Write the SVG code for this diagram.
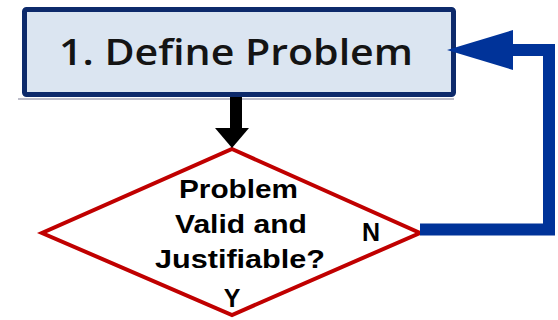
<svg xmlns="http://www.w3.org/2000/svg" width="558" height="320" viewBox="0 0 558 320">
<style>
.box{fill:#dbe5f1;stroke:#0d2a6b;stroke-width:5}
.dia{fill:#ffffff;stroke:#c00000;stroke-width:4;stroke-linejoin:miter}
.t1{font-family:"Open Sans","Noto Sans",sans-serif;font-weight:600;font-size:36px;fill:#141414}
.t2{font-family:"Liberation Sans",Arial,sans-serif;font-weight:bold;font-size:25px;fill:#000000}
.blue{fill:none;stroke:#003399;stroke-width:12;stroke-linejoin:miter}
</style>
<rect width="558" height="320" fill="#ffffff"/>
<g id="define-problem">
<line x1="18" y1="99" x2="454" y2="99" stroke="#a8a8b8" stroke-width="1.5"/>
<rect class="box" x="24.5" y="9.5" width="429" height="85" rx="2"/>
<text class="t1" x="59" y="65" textLength="354" lengthAdjust="spacingAndGlyphs">1. Define Problem</text>
</g>
<g id="decision">
<polygon class="dia" points="232,149 420,233 232,315 42,233"/>
<text class="t2" x="238.5" y="198" text-anchor="middle" textLength="119" lengthAdjust="spacingAndGlyphs">Problem</text>
<text class="t2" x="241" y="233" text-anchor="middle" textLength="132" lengthAdjust="spacingAndGlyphs">Valid and</text>
<text class="t2" x="240" y="268" text-anchor="middle" textLength="170" lengthAdjust="spacingAndGlyphs">Justifiable?</text>
<text class="t2" x="232" y="307" text-anchor="middle">Y</text>
<text class="t2" x="371" y="241" text-anchor="middle" font-size="24">N</text>
</g>
<g id="connectors">
<rect x="230" y="97" width="12" height="32" fill="#000000"/>
<polygon points="215,128 249,128 232,148" fill="#000000"/>
<path class="blue" d="M420,229.5 H549 V50 H510"/>
<polygon points="447,50 513,30 513,70" fill="#003399"/>
</g>
</svg>
